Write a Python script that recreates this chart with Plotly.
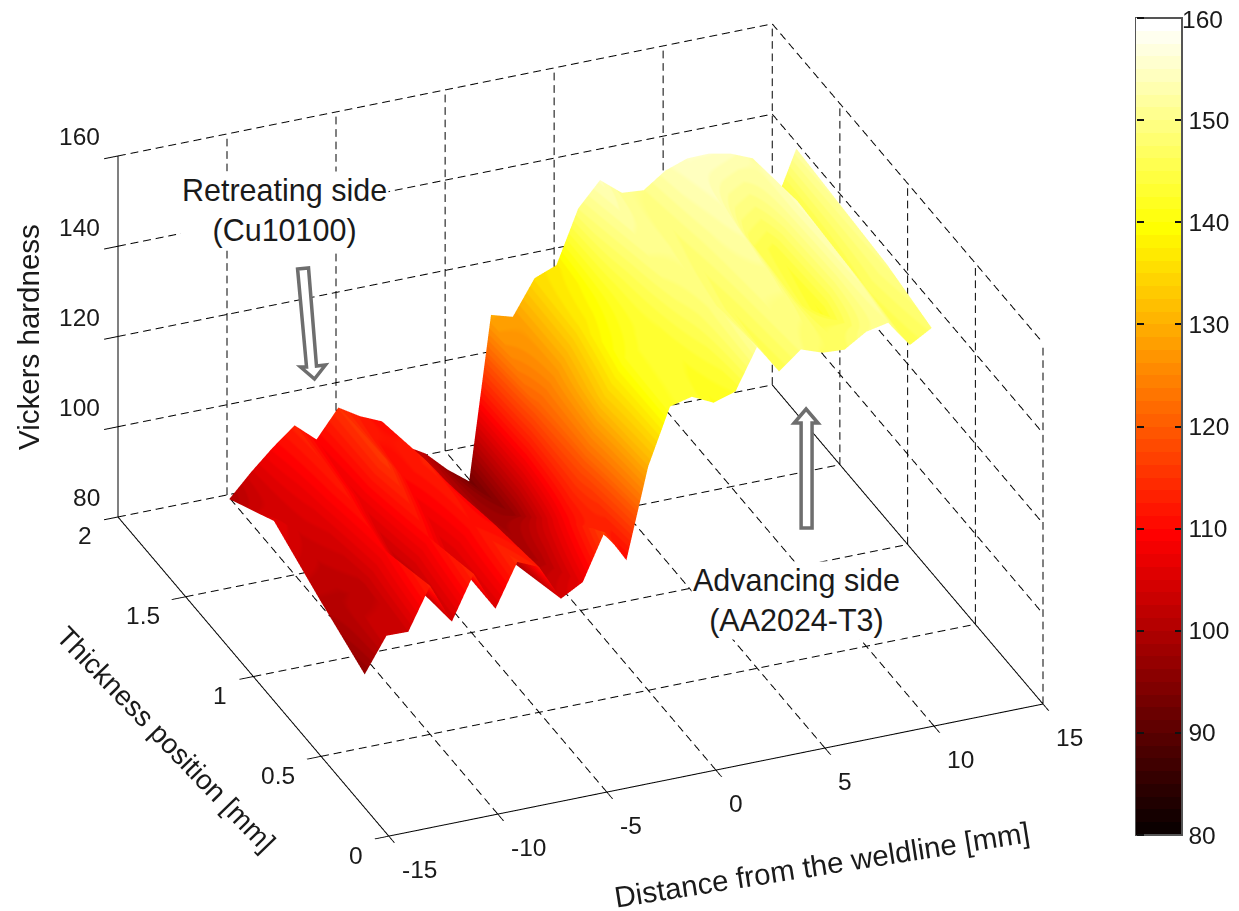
import plotly.graph_objects as go

# ---- data ----
distance = [-13,-12,-11,-10,-9,-8,-7,-6,-5,-4,-3,-2,-1,0,1,2,3,4,5,6,7,8,9,10,11,12,13]
thickness = [0.5, 0.83, 1.17, 1.5]
row_050 = [96.2,103.8,103.7,112.9,104,113.6,104.9,114.3,112.2,104.2,106.9,117,109.8,129.6,141.9,143.1,140.8,142.3,151.3,144.8,148.7,147,146.7,149.7,150.7,144.8,147.6]
row_083 = [101,101,102,109,102,110,105,111,110,100,100,108,118,133,141,143,143,146,149,146,150,150,145,142,153,146,150]
row_117 = [106.5,104,106,112,107,116,110,113,107,100,98,97,120,127,136,140,145,150,150,148,151,153,146,144,154,143,151]
row_150 = [99.7,104.7,109.2,113.1,109,115.1,112.2,110.1,103.8,101,96.5,92.9,128.8,127.4,135,136.9,148.5,153.8,150,149.6,153,154.7,154.8,153.8,151.8,140.4,152]
hardness = [row_050, row_083, row_117, row_150]

x_ticks = [-15,-10,-5,0,5,10,15]
y_ticks = [0,0.5,1,1.5,2]
z_ticks = [80,100,120,140,160]
bar_ticks = [80,90,100,110,120,130,140,150,160]

FONT = "Liberation Sans, Arial, sans-serif"
TXT = "#1a1a1a"
FS_TICK = 24.5
FS_TITLE = 29.5
OFF = 8
W, H = 1239 - OFF, 911 - OFF

def px(a):
    return (a - OFF) / W

def py(b):
    return 1 - (b - OFF) / H

def hot(n=64):
    out = []
    m = int(3*n/8)
    for i in range(n):
        r = min(1, (i+1)/m)
        g = min(1, max(0, (i+1-m)/m))
        b = max(0, (i+1-2*m)/(n-2*m))
        c = f"rgb({round(r*255)},{round(g*255)},{round(b*255)})"
        out += [[i/n, c], [(i+1)/n, c]]
    return out

x0, x1 = x_ticks[0], x_ticks[-1]
y0, y1 = y_ticks[0], y_ticks[-1]
z0, z1 = z_ticks[0], z_ticks[-1]

def dashed(a, b, periods, on=0.62):
    segs = []
    for i in range(periods):
        s = i / periods
        e = (i + on) / periods
        segs.append((tuple(a[k] + (b[k]-a[k])*s for k in range(3)),
                     tuple(a[k] + (b[k]-a[k])*e for k in range(3))))
    return segs

def polyline(segs):
    xs, ys, zs = [], [], []
    for a, b in segs:
        xs += [a[0], b[0], None]; ys += [a[1], b[1], None]; zs += [a[2], b[2], None]
    return xs, ys, zs

NX, NY, NZ = 52, 33, 29
dash = []
for t in x_ticks:
    dash += dashed((t,y0,z0),(t,y1,z0),NY) + dashed((t,y1,z0),(t,y1,z1),NZ)
for t in y_ticks:
    dash += dashed((x0,t,z0),(x1,t,z0),NX) + dashed((x1,t,z0),(x1,t,z1),NZ)
for t in z_ticks:
    dash += dashed((x0,y1,t),(x1,y1,t),NX) + dashed((x1,y1,t),(x1,y0,t),NY)

solid = [((x0,y0,z0),(x1,y0,z0)), ((x0,y0,z0),(x0,y1,z0)), ((x0,y1,z0),(x0,y1,z1))]

fig = go.Figure()
xs, ys, zs = polyline(dash)
fig.add_trace(go.Scatter3d(x=xs, y=ys, z=zs, mode="lines", hoverinfo="skip", showlegend=False,
                           line=dict(color="#000000", width=2)))
xs, ys, zs = polyline(solid)
fig.add_trace(go.Scatter3d(x=xs, y=ys, z=zs, mode="lines", hoverinfo="skip", showlegend=False,
                           line=dict(color="#000000", width=2)))
fig.add_trace(go.Surface(
    x=distance, y=thickness, z=hardness, cmin=80, cmax=160, colorscale=hot(),
    lighting=dict(ambient=1, diffuse=0, specular=0, roughness=1, fresnel=0),
    hoverinfo="skip",
    colorbar=dict(
        x=px(1142), xanchor="left", y=py(18), yanchor="top", xpad=0, ypad=0,
        lenmode="pixels", len=817, thicknessmode="pixels", thickness=46,
        outlinecolor="#555555", outlinewidth=2, tickvals=bar_ticks, ticks="inside",
        ticklen=8, tickwidth=1.5, tickcolor="#111111",
        tickfont=dict(family=FONT, size=FS_TICK, color=TXT),
    ),
))
# second, empty colour bar: only draws the tick marks on the bar's left edge
fig.add_trace(go.Scatter3d(
    x=[0], y=[1], z=[120], mode="markers", hoverinfo="skip", showlegend=False,
    marker=dict(size=1, opacity=0, color=[120], cmin=80, cmax=160, colorscale=hot(), showscale=True,
                colorbar=dict(x=px(1142), xanchor="left", y=py(18), yanchor="top", xpad=0, ypad=0,
                              lenmode="pixels", len=817, thicknessmode="pixels", thickness=1,
                              outlinewidth=0, tickvals=bar_ticks, ticks="outside", ticklen=7,
                              tickwidth=1.5, tickcolor="#111111", showticklabels=False)),
))

tf = dict(family=FONT, size=FS_TICK, color=TXT)
scene_ann = []
for t in x_ticks:
    scene_ann.append(dict(x=t, y=y0, z=z0, text=str(t), showarrow=False, xanchor="left", xshift=11, yshift=-33, font=tf))
for t in y_ticks:
    scene_ann.append(dict(x=x0, y=t, z=z0, text=f"{t:g}", showarrow=False, xanchor="right", xshift=-24, yshift=-19, font=tf))
for t in z_ticks:
    scene_ann.append(dict(x=x0, y=y1, z=t, text=str(t), showarrow=False, xanchor="right", xshift=-16, yshift=19, font=tf))

def paper_text(a, b, text, angle=0, bg=None, size=FS_TITLE):
    return dict(xref="paper", yref="paper", x=px(a), y=py(b), text=text, showarrow=False, textangle=angle,
                font=dict(family=FONT, size=size, color=TXT), bgcolor=bg,
                xanchor="center", yanchor="middle")

ann = [
    paper_text(28, 337, "Vickers hardness", -90),
    paper_text(167, 739, "Thickness position [mm]", 46, size=28),
    paper_text(826, 864, "Distance from the weldline [mm]", -9),
    paper_text(286, 210, "Retreating side<br>(Cu10100)", 0, "white", size=30.5),
    paper_text(800, 600, "Advancing side<br>(AA2024-T3)", 0, "white", size=30.5),
    paper_text(1208, 19, "160", size=FS_TICK),
]

def hollow_arrow(pts):
    return dict(type="path", xref="paper", yref="paper", layer="above",
                path="M " + " L ".join(f"{px(a):.5f} {py(b):.5f}" for a, b in pts) + " Z",
                fillcolor="white", line=dict(color="#6e6e6e", width=3.5))

shapes = [
    hollow_arrow([(299,269),(310,268),(318,366),(327,365),(316,379),(302,367),(308,367)]),
    hollow_arrow([(805,528),(816,528),(816,423),(822,423),(810,409),(798,423),(805,423)]),
]

def axis(rng, ticks):
    return dict(range=rng, autorange=False, title=dict(text=""), showgrid=False, zeroline=False,
                showline=False, showticklabels=False, showspikes=False, showbackground=False,
                tickmode="array", tickvals=ticks, ticks="outside", ticklen=15, tickwidth=2, tickcolor="#000000")

K = 1.678
R = 1.01
cx, cy = 583.5, 430
fig.update_layout(
    width=W, height=H, autosize=False,
    margin=dict(l=0, r=0, t=0, b=0), paper_bgcolor="white",
    font=dict(family=FONT, size=FS_TICK, color=TXT),
    annotations=ann, shapes=shapes, showlegend=False,
    scene=dict(
        domain=dict(x=[0, 2*(cx-OFF)/W], y=[1-2*(cy-OFF)/H, 1]),
        aspectmode="manual", aspectratio=dict(x=K, y=K, z=0.584*K),
        camera=dict(projection=dict(type="orthographic"),
                    eye=dict(x=-0.334*R, y=-0.807*R, z=0.488*R),
                    center=dict(x=0, y=0, z=0), up=dict(x=0, y=0, z=1)),
        xaxis=axis([x0, x1], x_ticks),
        yaxis=axis([y0, y1], y_ticks),
        zaxis=axis([z0, z1], z_ticks),
        annotations=scene_ann,
    ),
)
fig.write_html("out.html")
